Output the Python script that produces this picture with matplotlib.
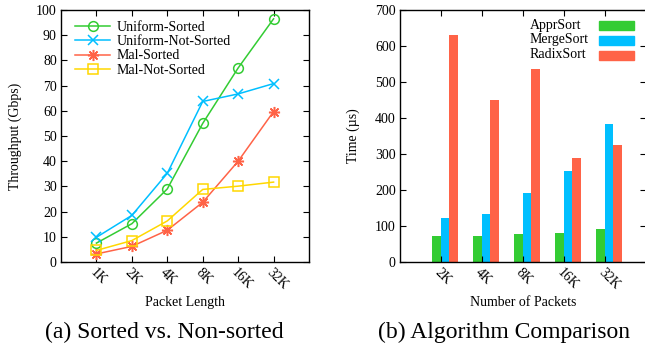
import numpy as np
import matplotlib
matplotlib.use("Agg")
import matplotlib.pyplot as plt
from matplotlib.patches import Rectangle

plt.rcParams['font.family'] = ['Liberation Serif', 'DejaVu Serif']

# left panel data
lengths = ["1K", "2K", "4K", "8K", "16K", "32K"]
uni_sorted = [7.5, 15.2, 29.0, 55.0, 77.0, 96.5]
uni_not_sorted = [9.8, 18.5, 35.2, 63.7, 66.7, 70.8]
mal_sorted = [3.2, 6.2, 12.6, 23.7, 40.0, 59.7]
mal_not_sorted = [4.6, 8.5, 16.3, 28.8, 30.1, 31.7]

# right panel data
packets = ["2K", "4K", "8K", "16K", "32K"]
algos = ["ApprSort", "MergeSort", "RadixSort"]
appr_sort = [73, 72, 77, 80, 92]
merge_sort = [122, 133, 191, 252, 384]
radix_sort = [630, 451, 537, 288, 325]

green = "#33cc33"
blue = "#00bfff"
red = "#ff6347"
yellow = "#ffd700"

fig = plt.figure(figsize=(6.45, 3.46), dpi=100)
W, H = 645.0, 346.0

def style_axes(ax):
    ax.tick_params(direction="in", length=4, width=0.8, top=True, right=True,
                   labelsize=10, pad=3)
    for s in ax.spines.values():
        s.set_linewidth(1.0)

# ---- (a) ----
ax1 = fig.add_axes([61 / W, (H - 262) / H, 248 / W, 252 / H])
x = np.arange(len(lengths))
ax1.plot(x, uni_sorted, color=green, lw=1.1, marker="o", ms=7, mfc="none", mew=1.1,
         label="Uniform-Sorted")
ax1.plot(x, uni_not_sorted, color=blue, lw=1.1, marker="x", ms=7, mew=1.1,
         label="Uniform-Not-Sorted")
ax1.plot(x, mal_sorted, color=red, lw=1.1, marker=(8, 2, 0), ms=8, mew=1.1,
         label="Mal-Sorted")
ax1.plot(x, mal_not_sorted, color=yellow, lw=1.1, marker="s", ms=7, mfc="none", mew=1.1,
         label="Mal-Not-Sorted")
ax1.set_xlim(-1, 6)
ax1.set_ylim(0, 100)
ax1.set_yticks(np.arange(0, 101, 10))
ax1.set_xticks(x)
ax1.set_xticklabels(lengths, rotation=-45, ha="left", va="top", rotation_mode="anchor")
style_axes(ax1)
ax1.set_ylabel("Throughput (Gbps)", fontsize=10, labelpad=10)
ax1.set_xlabel("Packet Length", fontsize=10, labelpad=3)
ax1.legend(loc="upper left", frameon=False, fontsize=10, handlelength=2.5,
           handletextpad=0.5, labelspacing=0.1, borderaxespad=0.0,
           bbox_to_anchor=(0.035, 0.98))

# ---- (b) ----
ax2 = fig.add_axes([400 / W, (H - 262) / H, 246 / W, 252 / H])
xb = np.arange(len(packets))
bw = 0.205
colors_b = [green, blue, red]
offsets = [-0.11, 0.095, 0.30]
for vals, off, c in zip([appr_sort, merge_sort, radix_sort], offsets, colors_b):
    ax2.bar(xb + off, vals, bw, color=c)
ax2.set_xlim(-1, 5)
ax2.set_ylim(0, 700)
ax2.set_yticks(np.arange(0, 701, 100))
ax2.set_xticks(xb)
ax2.set_xticklabels(packets, rotation=-45, ha="left", va="top", rotation_mode="anchor")
style_axes(ax2)
ax2.set_ylabel("Time (\u00b5s)", fontsize=10, labelpad=11)
ax2.set_xlabel("Number of Packets", fontsize=10, labelpad=3)

# gnuplot-style key: left-justified text, colour box on the right
for i, (name, c) in enumerate(zip(algos, colors_b)):
    yc = 1 - (25 + 15 * i - 10) / 252.0
    ax2.text((530 - 400) / 246.0, yc, name, transform=ax2.transAxes, fontsize=10,
             ha="left", va="center")
    ax2.add_patch(Rectangle(((599 - 400) / 246.0, yc - 4.5 / 252.0), 35 / 246.0, 9 / 252.0,
                            transform=ax2.transAxes, color=c, clip_on=False))

fig.text(164 / W, 1 - 332 / H, "(a) Sorted vs. Non-sorted", ha="center", va="center",
         fontsize=17)
fig.text(504 / W, 1 - 332 / H, "(b) Algorithm Comparison", ha="center", va="center",
         fontsize=17)

fig.savefig("out.png", dpi=100)
